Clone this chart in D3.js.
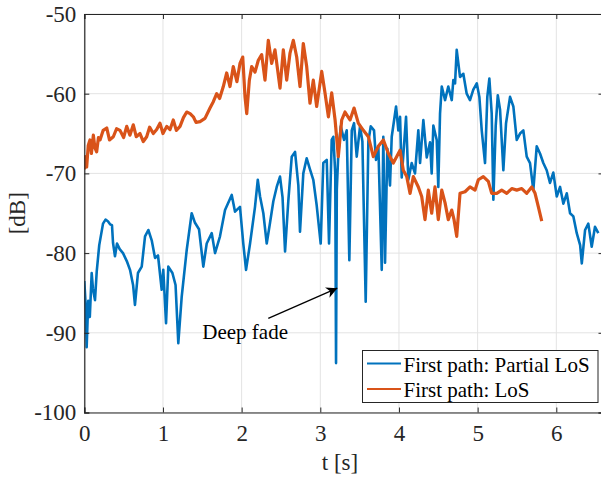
<!DOCTYPE html>
<html>
<head>
<meta charset="utf-8">
<script src="https://cdn.jsdelivr.net/npm/d3@7"></script>
<style>
  html, body { margin: 0; padding: 0; background: #fff; }
  svg { display: block; font-family: "Liberation Serif", "Times New Roman", serif; }
  svg text { font-family: "Liberation Serif", "Times New Roman", serif !important; }
</style>
</head>
<body>
<div id="chart"></div>
<script>
// first path, partial LoS (blue)
var partialT = [0.00,0.02,0.03,0.05,0.07,0.094,0.11,0.136,0.158,0.19,0.238,0.27,0.30,0.33,0.352,0.365,0.39,0.416,0.45,0.492,0.54,0.581,0.62,0.644,0.682,0.73,0.772,0.814,0.857,0.899,0.937,0.984,1.004,1.039,1.068,1.12,1.16,1.195,1.238,1.302,1.365,1.407,1.458,1.513,1.556,1.62,1.662,1.725,1.789,1.874,1.916,1.979,2.021,2.056,2.107,2.17,2.205,2.234,2.276,2.319,2.361,2.403,2.446,2.488,2.52,2.552,2.593,2.637,2.679,2.721,2.742,2.784,2.827,2.869,2.911,2.954,3.005,3.038,3.082,3.111,3.145,3.166,3.19,3.20,3.21,3.229,3.26,3.302,3.336,3.369,3.40,3.429,3.463,3.505,3.535,3.577,3.611,3.641,3.683,3.708,3.738,3.781,3.801,3.823,3.852,3.886,3.908,3.963,3.992,4.014,4.035,4.09,4.119,4.162,4.204,4.246,4.268,4.31,4.353,4.395,4.416,4.437,4.48,4.50,4.522,4.544,4.586,4.627,4.671,4.691,4.713,4.734,4.776,4.818,4.861,4.903,4.945,4.989,5.022,5.052,5.094,5.123,5.149,5.179,5.20,5.23,5.256,5.285,5.327,5.361,5.412,5.454,5.497,5.539,5.581,5.624,5.666,5.708,5.751,5.793,5.835,5.878,5.92,5.962,6.006,6.048,6.09,6.133,6.175,6.217,6.26,6.303,6.324,6.366,6.407,6.45,6.492,6.534];
var partialDb = [-83.5,-87,-91.8,-86,-88,-82.5,-84.5,-85.9,-82.3,-79,-76.3,-75.8,-76,-76.4,-76.5,-78.7,-80.4,-78.8,-79.5,-80,-81,-82.1,-84,-86.5,-82.5,-81.7,-77.9,-77.1,-78.4,-80.6,-80.3,-84.6,-82.1,-88.8,-81.7,-82.5,-84,-91.3,-85.5,-79.6,-75,-76.2,-77,-81.7,-78.8,-77.5,-80,-77.9,-74.6,-72.7,-74.8,-74.2,-78.8,-82.1,-78.8,-74.2,-70.8,-72.9,-75,-78.8,-76.2,-73.5,-71.7,-70.4,-73,-79.8,-73.5,-67.9,-67.3,-71.5,-77.3,-70,-68.1,-69.5,-70.8,-74,-78.8,-68.7,-68.3,-78.8,-65.8,-65.4,-70,-93.8,-72,-67.5,-64.1,-65.8,-64.6,-80.9,-64.6,-63.7,-67.9,-64.1,-66,-86.1,-66,-64.1,-64.6,-68.3,-66.6,-82.1,-65.4,-81.2,-66.9,-71.5,-65.4,-61.6,-64.6,-62.9,-70.5,-62.9,-70.8,-68.7,-70,-64.6,-68.7,-63.3,-68,-66.1,-70,-64,-65.8,-71.7,-62.5,-59.1,-60.8,-59.1,-60.8,-58.3,-58.7,-54.5,-57.9,-57.5,-60,-60.8,-59.5,-58.7,-60.4,-64.6,-68.7,-60.4,-58.1,-62.5,-73.3,-64,-60.2,-62,-69.6,-63.7,-60.4,-61.6,-65.8,-65,-64.6,-67.9,-68.7,-72.1,-66.6,-67.5,-68.7,-69.6,-71.2,-69.9,-72.9,-71.7,-73.8,-72.5,-75,-75.4,-77.5,-79,-81.3,-77.1,-76.3,-79.2,-76.7,-77.5];

// first path, LoS (orange)
var losT = [0.00,0.01,0.03,0.05,0.072,0.09,0.115,0.135,0.157,0.18,0.20,0.24,0.285,0.32,0.369,0.41,0.454,0.50,0.539,0.58,0.623,0.66,0.708,0.75,0.793,0.83,0.877,0.92,0.962,1.00,1.048,1.09,1.131,1.17,1.217,1.26,1.302,1.345,1.386,1.42,1.471,1.534,1.598,1.64,1.683,1.72,1.767,1.81,1.852,1.894,1.94,1.979,2.014,2.043,2.065,2.098,2.128,2.17,2.212,2.255,2.297,2.339,2.382,2.424,2.488,2.53,2.573,2.615,2.657,2.70,2.742,2.784,2.827,2.869,2.911,2.954,3.018,3.06,3.103,3.145,3.188,3.229,3.272,3.314,3.378,3.429,3.483,3.547,3.611,3.674,3.738,3.801,3.865,3.928,3.992,4.014,4.055,4.099,4.141,4.183,4.246,4.289,4.331,4.373,4.416,4.458,4.50,4.544,4.586,4.627,4.671,4.70,4.734,4.776,4.84,4.903,4.967,5.009,5.072,5.136,5.179,5.243,5.306,5.37,5.434,5.497,5.561,5.624,5.688,5.73,5.772,5.815];
var losDb = [-69.5,-67.9,-69.2,-66.5,-65.8,-67.5,-65.2,-66.8,-67.3,-65.5,-65.8,-64.6,-64.3,-65.8,-65.4,-64.4,-64.6,-65.5,-64.1,-65.2,-63.9,-65.4,-65,-66,-65.4,-64.2,-65,-64.5,-63.7,-65,-64.1,-64.5,-63.3,-64.6,-64.1,-63,-62.3,-62.5,-62.9,-63.6,-63.5,-63.1,-61.8,-61,-60,-60.6,-59.1,-57.4,-59.1,-56.6,-58.5,-56.2,-55.4,-60.4,-62.5,-58.3,-56.6,-57.3,-55.8,-55.1,-58.3,-53.3,-56.2,-54.5,-59.3,-54.5,-58.3,-54.9,-53.3,-55.4,-59.1,-53.7,-56.6,-61.2,-58.3,-61.6,-57.2,-59.9,-62.9,-59.9,-63.3,-67.9,-63.3,-62.3,-63.3,-61.8,-63.7,-64.6,-65.4,-67.9,-66.6,-65.8,-67.5,-68.7,-67.5,-67.1,-69.6,-70.4,-72.5,-70.4,-71.7,-72.9,-75.8,-72.1,-75,-71.7,-75.8,-72.1,-73.7,-75.8,-74.6,-75.8,-77.9,-72.5,-72.3,-71.7,-72.1,-70.8,-70.4,-71,-72.5,-72.5,-72.1,-72.5,-71.9,-72.1,-71.9,-72.5,-71.7,-72.5,-74.2,-76];

var seriesNames = ["First path: Partial LoS", "First path: LoS"];
var seriesColors = ["#0072BD", "#D95319"];
var xTicks = [0, 1, 2, 3, 4, 5, 6];
var yTicks = [-100, -90, -80, -70, -60, -50];
// annotation: text position, arrow tail, arrow tip (data units)
var fadeLabel = "Deep fade";
var fadeText = [1.5, -90.8];
var fadeArrow = [[2.339, -88.2], [3.216, -84.4]];

var W = 601, H = 479;
var margin = {left: 84.3, top: 14, right: -2.5, bottom: 66.5};
var iw = W - margin.left - margin.right, ih = H - margin.top - margin.bottom;
var serif = "'Liberation Serif', 'Times New Roman', serif";

var x = d3.scaleLinear().domain([0, 6.6]).range([0, iw]);
var y = d3.scaleLinear().domain([-100, -50]).range([ih, 0]);

var svg = d3.select("#chart").append("svg")
  .attr("width", W).attr("height", H);

var defs = svg.append("defs");
defs.append("clipPath").attr("id", "clip")
  .append("rect").attr("width", iw).attr("height", ih);
defs.append("marker")
  .attr("id", "arrowhead")
  .attr("viewBox", "0 0 10 10")
  .attr("refX", 10).attr("refY", 5)
  .attr("markerWidth", 11).attr("markerHeight", 11)
  .attr("markerUnits", "userSpaceOnUse")
  .attr("orient", "auto")
  .append("path").attr("d", "M0,0 L10,5 L0,10 L3,5 Z").attr("fill", "#000");

var g = svg.append("g").attr("transform", "translate(" + margin.left + "," + margin.top + ")");

// grid
g.append("g").selectAll("line").data(xTicks).join("line")
  .attr("x1", d => x(d)).attr("x2", d => x(d))
  .attr("y1", 0).attr("y2", ih)
  .attr("stroke", "#e3e3e3").attr("stroke-width", 1);
g.append("g").selectAll("line").data(yTicks).join("line")
  .attr("x1", 0).attr("x2", iw)
  .attr("y1", d => y(d)).attr("y2", d => y(d))
  .attr("stroke", "#e3e3e3").attr("stroke-width", 1);

// lines
var line = d3.line().x(d => x(d[0])).y(d => y(d[1]));
var plot = g.append("g").attr("clip-path", "url(#clip)");
plot.append("path")
  .datum(d3.zip(partialT, partialDb))
  .attr("d", line)
  .attr("fill", "none")
  .attr("stroke", seriesColors[0])
  .attr("stroke-width", 2.6)
  .attr("stroke-linejoin", "round");
plot.append("path")
  .datum(d3.zip(losT, losDb))
  .attr("d", line)
  .attr("fill", "none")
  .attr("stroke", seriesColors[1])
  .attr("stroke-width", 3.2)
  .attr("stroke-linejoin", "round");

// axes (ticks inward, box)
var axisColor = "#262626";
var fmt = d => String(d);
var xAxis = g.append("g").attr("transform", "translate(0," + ih + ")")
  .call(d3.axisBottom(x).tickValues(xTicks).tickSize(-5).tickPadding(12).tickFormat(fmt));
var xTop = g.append("g")
  .call(d3.axisTop(x).tickValues(xTicks).tickSize(-5).tickFormat(""));
var yAxis = g.append("g")
  .call(d3.axisLeft(y).tickValues(yTicks).tickSize(-5).tickPadding(8).tickFormat(fmt));
var yRight = g.append("g").attr("transform", "translate(" + iw + ",0)")
  .call(d3.axisRight(y).tickValues(yTicks).tickSize(-5).tickFormat(""));

[xAxis, xTop, yAxis, yRight].forEach(function(a){
  a.attr("font-family", null).attr("font-size", null);
  a.select(".domain").attr("stroke", axisColor).attr("stroke-width", 1.2);
  a.selectAll(".tick line").attr("stroke", axisColor).attr("stroke-width", 1);
  a.selectAll(".tick text")
    .attr("fill", "#262626")
    .attr("font-family", serif)
    .attr("font-size", 23);
});
xAxis.selectAll(".tick text").attr("dy", "0.71em");

// axis labels
svg.append("text")
  .attr("x", margin.left + x(3.25)).attr("y", 470)
  .attr("text-anchor", "middle")
  .attr("fill", "#262626")
  .attr("font-family", serif).attr("font-size", 23)
  .text("t [s]");
svg.append("text")
  .attr("transform", "translate(25," + (margin.top + ih / 2) + ") rotate(-90)")
  .attr("text-anchor", "middle")
  .attr("fill", "#262626")
  .attr("font-family", serif).attr("font-size", 23)
  .text("[dB]");

// annotation
g.append("line")
  .attr("x1", x(fadeArrow[0][0])).attr("y1", y(fadeArrow[0][1]))
  .attr("x2", x(fadeArrow[1][0])).attr("y2", y(fadeArrow[1][1]))
  .attr("stroke", "#000").attr("stroke-width", 1.3)
  .attr("marker-end", "url(#arrowhead)");
g.append("text")
  .attr("x", x(fadeText[0])).attr("y", y(fadeText[1]))
  .attr("fill", "#000")
  .attr("font-family", serif).attr("font-size", 21)
  .text(fadeLabel);

// legend
var legend = svg.append("g").attr("transform", "translate(362.5,350.5)");
legend.append("rect")
  .attr("width", 235.5).attr("height", 52)
  .attr("fill", "#fff")
  .attr("stroke", "#262626").attr("stroke-width", 1);
var items = legend.selectAll("g.item").data(seriesNames).join("g")
  .attr("class", "item")
  .attr("transform", (d, i) => "translate(0," + (13 + i * 25.5) + ")");
items.append("line")
  .attr("x1", 4.5).attr("x2", 38.5)
  .attr("stroke", (d, i) => seriesColors[i])
  .attr("stroke-width", 2);
items.append("text")
  .attr("x", 41).attr("y", 8)
  .attr("fill", "#000")
  .attr("font-family", serif).attr("font-size", 21)
  .text(d => d);
</script>
</body>
</html>
